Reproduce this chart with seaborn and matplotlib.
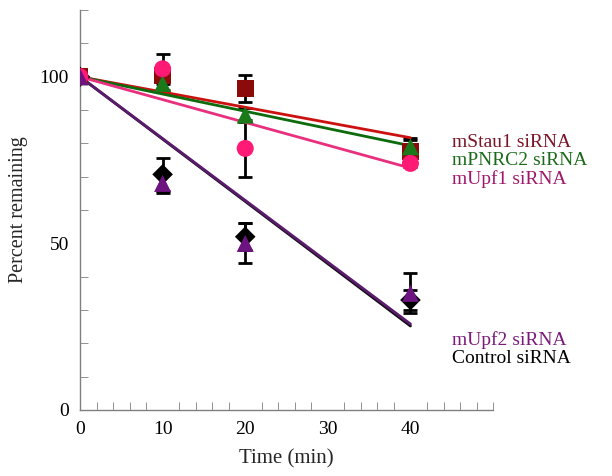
import numpy as np
import pandas as pd
import seaborn as sns
import matplotlib.pyplot as plt
from matplotlib.ticker import MultipleLocator

sns.set_style("ticks")
plt.rcParams["font.family"] = ["Liberation Serif", "DejaVu Serif"]

# data
time = [0, 10, 20, 40]
groups = ["Control siRNA", "mStau1 siRNA", "mPNRC2 siRNA", "mUpf1 siRNA", "mUpf2 siRNA"]

control = [100, 70.7, 52.0, 33.0]
control_err = [0, 5.0, 4.0, 3.0]
stau1 = [100, 100.5, 96.4, 77.5]
stau1_err = [0, 1.0, 4.0, 4.0]
pnrc2 = [100, 98.0, 88.5, 79.0]
pnrc2_err = [0, 2.0, 2.0, 2.0]
upf1 = [100, 102.4, 78.5, 74.0]
upf1_err = [0, 4.5, 8.5, 1.0]
upf2 = [100, 68.0, 50.0, 35.0]
upf2_err = [0, 3.0, 6.0, 6.0]

# fitted trend lines, value at t=0 and t=40
fit_time = [0, 40]
control_fit = [100, 25.2]
stau1_fit = [100, 81.7]
pnrc2_fit = [100, 79.3]
upf1_fit = [100, 72.6]
upf2_fit = [100, 25.8]

values = [control, stau1, pnrc2, upf1, upf2]
errors = [control_err, stau1_err, pnrc2_err, upf1_err, upf2_err]
fits = [control_fit, stau1_fit, pnrc2_fit, upf1_fit, upf2_fit]

marker_col = ["#000000", "#8b0a0a", "#1a7a1a", "#ff1a75", "#6e1480"]
line_col = ["#111111", "#cc1111", "#0c6b0c", "#e8307f", "#5c1a6e"]
text_col = ["#000000", "#7a1426", "#1a6a1a", "#a0186a", "#7a1a7a"]
markers = ["D", "s", "^", "o", "^"]

df = pd.DataFrame({
    "time": time * len(groups),
    "value": sum(values, []),
    "err": sum(errors, []),
    "group": np.repeat(groups, len(time)),
})
df_fit = pd.DataFrame({
    "time": fit_time * len(groups),
    "value": sum(fits, []),
    "group": np.repeat(groups, len(fit_time)),
})

fig = plt.figure(figsize=(6.12, 4.76), dpi=100)
ax = fig.add_axes([0.1307, 0.1387, 0.675, 0.840])

# error bars
for g in groups:
    sub = df[df["group"] == g]
    ax.errorbar(sub["time"], sub["value"], yerr=sub["err"], fmt="none",
                ecolor="black", elinewidth=2, capsize=5, capthick=2, zorder=2)

# fit lines
sns.lineplot(data=df_fit, x="time", y="value", hue="group", hue_order=groups,
             palette=line_col, linewidth=2, legend=False, ax=ax, zorder=3)

# markers
for i, (g, c, m) in enumerate(zip(groups, marker_col, markers)):
    sub = df[df["group"] == g]
    sns.scatterplot(data=sub, x="time", y="value", color=c, marker=m,
                    s=150 if m != "D" else 110, edgecolor="none", ax=ax,
                    zorder=4 + i * 0.1)

ax.set_xlim(0, 50)
ax.set_ylim(0, 120)
ax.set_xticks([0, 10, 20, 30, 40])
ax.xaxis.set_minor_locator(MultipleLocator(2))
ax.set_yticks([0, 50, 100])
ax.yaxis.set_minor_locator(MultipleLocator(10))
ax.tick_params(which="both", direction="in", colors="#808080", labelcolor="black",
               labelsize=14)
ax.tick_params(which="major", length=0, pad=8)
ax.tick_params(which="minor", length=6)
for s in ["top", "right"]:
    ax.spines[s].set_visible(False)
for s in ["left", "bottom"]:
    ax.spines[s].set_color("#808080")
    ax.spines[s].set_linewidth(1)

ax.set_xlabel("Time (min)", fontsize=15, labelpad=8)
ax.set_ylabel("Percent remaining", fontsize=14.5, labelpad=8)

# labels on the right
label_pos = {"mStau1 siRNA": 80.2, "mPNRC2 siRNA": 74.8, "mUpf1 siRNA": 69.2,
             "mUpf2 siRNA": 21.0, "Control siRNA": 15.4}
for g, c in zip(groups, text_col):
    ax.text(45.0, label_pos[g], g, color=c, fontsize=14, va="center", ha="left",
            clip_on=False)

fig.savefig("out.png", dpi=100)
